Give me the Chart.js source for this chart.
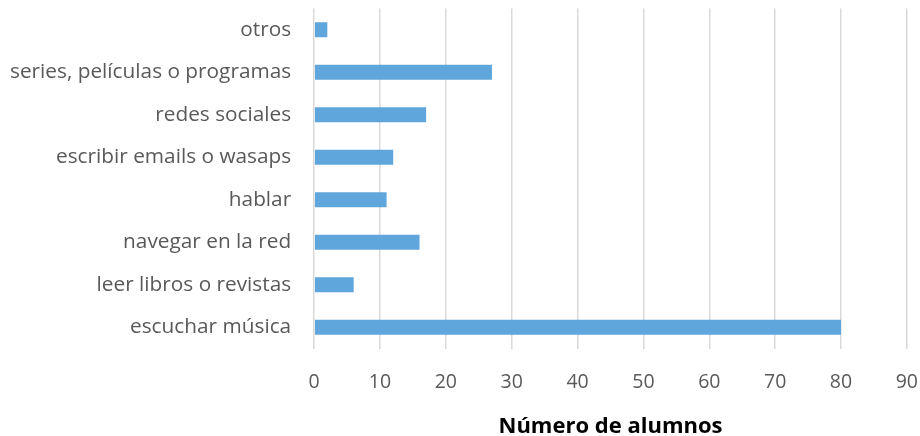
<!DOCTYPE html>
<html>
<head>
<meta charset="utf-8">
<script src="https://cdn.jsdelivr.net/npm/chart.js@4"></script>
<style>
  html, body { margin: 0; padding: 0; background: #fff; overflow: hidden; }
  #wrap { width: 955px; height: 466px; margin-top: -27px; margin-left: -13px; }
</style>
</head>
<body>
<div id="wrap"><canvas id="grafico"></canvas></div>
<script>
// datos del gráfico
const categorias = [
  "otros",
  "series, películas o programas",
  "redes sociales",
  "escribir emails o wasaps",
  "hablar",
  "navegar en la red",
  "leer libros o revistas",
  "escuchar música",
];
const alumnos = [2, 27, 17, 12, 11, 16, 6, 80];
const ejeMin = 0;
const ejeMax = 90;
const ejePaso = 10;

Chart.defaults.font.family = "'Open Sans', sans-serif";

new Chart(document.getElementById("grafico"), {
  type: "bar",
  data: {
    labels: categorias,
    datasets: [
      {
        label: "Número de alumnos",
        data: alumnos,
        backgroundColor: "#5fa6dc",
        barPercentage: 0.35,
        categoryPercentage: 1,
      },
    ],
  },
  options: {
    indexAxis: "y",
    responsive: true,
    maintainAspectRatio: false,
    animation: false,
    layout: { padding: 0 },
    scales: {
      x: {
        min: ejeMin,
        max: ejeMax,
        ticks: { stepSize: ejePaso, color: "#595959", font: { size: 19.5, lineHeight: 1 }, padding: 24 },
        grid: { color: "#d9d9d9", lineWidth: 1.5, drawTicks: false },
        border: { display: false },
        title: {
          display: true,
          text: "Número de alumnos",
          color: "#000",
          font: { size: 22, weight: "bold", lineHeight: 1 },
          padding: { top: 0, bottom: 1 },
        },
      },
      y: {
        ticks: { color: "#595959", font: { size: 20.8 }, padding: 23 },
        grid: { display: false, drawTicks: false },
        border: { display: false },
      },
    },
    plugins: {
      legend: { display: false },
      tooltip: { enabled: false },
    },
  },
});
</script>
</body>
</html>
